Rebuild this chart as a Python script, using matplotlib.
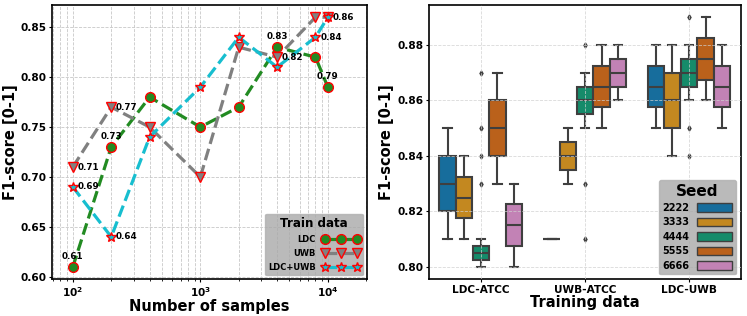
import colorsys
import numpy as np
import matplotlib
matplotlib.use("Agg")
import matplotlib.pyplot as plt
from matplotlib.ticker import FuncFormatter
from matplotlib.patches import Patch

# ---- datos panel izquierdo (F1 vs numero de muestras)
n_samples = [100, 200, 400, 1000, 2000, 4000, 8000, 10000]
f1_ldc = [0.61, 0.73, 0.78, 0.75, 0.77, 0.83, 0.82, 0.79]
f1_uwb = [0.71, 0.77, 0.75, 0.70, 0.83, 0.82, 0.86, 0.86]
f1_ldc_uwb = [0.69, 0.64, 0.74, 0.79, 0.84, 0.81, 0.84, 0.86]

# etiquetas: (x, valor)
labels_above = [(100, 0.61), (200, 0.73), (4000, 0.83), (10000, 0.79)]
labels_right = [(100, 0.71), (200, 0.77), (100, 0.69), (200, 0.64),
                (4000, 0.82), (8000, 0.84), (10000, 0.86)]

# ---- datos panel derecho (estadisticas de cajas por semilla)
categories = ["LDC-ATCC", "UWB-ATCC", "LDC-UWB"]
seeds = ["2222", "3333", "4444", "5555", "6666"]

med = [[0.830, 0.825, 0.805, 0.850, 0.815],
       [0.810, 0.840, 0.860, 0.865, 0.870],
       [0.865, 0.860, 0.870, 0.875, 0.865]]
q1 = [[0.820, 0.8175, 0.8025, 0.840, 0.8075],
      [0.810, 0.835, 0.855, 0.8575, 0.865],
      [0.8575, 0.850, 0.865, 0.8675, 0.8575]]
q3 = [[0.840, 0.8325, 0.8075, 0.860, 0.8225],
      [0.810, 0.845, 0.865, 0.8725, 0.875],
      [0.8725, 0.870, 0.875, 0.8825, 0.8725]]
whislo = [[0.81, 0.81, 0.80, 0.83, 0.80],
          [0.81, 0.83, 0.85, 0.85, 0.86],
          [0.85, 0.84, 0.86, 0.86, 0.85]]
whishi = [[0.85, 0.84, 0.81, 0.87, 0.83],
          [0.81, 0.85, 0.87, 0.88, 0.88],
          [0.88, 0.88, 0.88, 0.89, 0.88]]
fliers = [[[], [], [0.83, 0.84, 0.85, 0.87], [], []],
          [[], [], [0.81, 0.83, 0.88], [], []],
          [[], [], [0.84, 0.85, 0.89], [], []]]

BASE_COLORS = ["#0173b2", "#de8f05", "#029e73", "#d55e00", "#cc78bc"]
LINE_GRAY = "#3f3f3f"


def desat(hexcol, prop=0.75):
    r, g, b = matplotlib.colors.to_rgb(hexcol)
    h, l, s = colorsys.rgb_to_hls(r, g, b)
    return colorsys.hls_to_rgb(h, l, s * prop)


box_colors = [desat(c) for c in BASE_COLORS]

fig = plt.figure(figsize=(7.47, 3.16), dpi=100)
ax1 = fig.add_axes([0.070, 0.116, 0.421, 0.869])
ax2 = fig.add_axes([0.574, 0.116, 0.418, 0.869])

TICK_FS = 7.6
LABEL_FS = 10.5

# ---------------- panel izquierdo
common = dict(linestyle="--", linewidth=2.3, markeredgecolor="red",
              markeredgewidth=1.0)
ax1.plot(n_samples, f1_ldc, color="forestgreen", marker="o", markersize=7,
         label="LDC", **common)
ax1.plot(n_samples, f1_uwb, color="gray", marker="v", markersize=7.5,
         label="UWB", **common)
ax1.plot(n_samples, f1_ldc_uwb, color="tab:cyan", marker="*", markersize=7.5,
         label="LDC+UWB", **common)

for x, v in labels_above:
    ax1.annotate("{:.2f}".format(v), (x, v), xytext=(0, 4.5),
                 textcoords="offset points", ha="center", va="bottom",
                 fontsize=6.3, fontweight="bold")
for x, v in labels_right:
    ax1.annotate("{:.2f}".format(v), (x, v), xytext=(3.5, 0),
                 textcoords="offset points", ha="left", va="center",
                 fontsize=6.3, fontweight="bold")

ax1.set_xscale("log")
ax1.set_xlim(69, 20200)
ax1.set_ylim(0.5975, 0.8725)
ax1.set_yticks([0.60, 0.65, 0.70, 0.75, 0.80, 0.85])
ax1.yaxis.set_major_formatter(FuncFormatter(lambda v, p: "{:.2f}".format(v)))
ax1.xaxis.set_major_formatter(
    FuncFormatter(lambda v, p: r"$\mathbf{10^{%d}}$" % round(np.log10(v))))
ax1.grid(True, which="both", color="#c8c8c8", linestyle="--", linewidth=0.6)
ax1.set_xlabel("Number of samples", fontsize=LABEL_FS, fontweight="bold",
               labelpad=0)
ax1.set_ylabel("F1-score [0-1]", fontsize=LABEL_FS, fontweight="bold",
               labelpad=2)

ax1.legend(loc="lower right", markerfirst=False, numpoints=3,
           handlelength=4.4, facecolor="darkgray", framealpha=0.8,
           edgecolor="#b0b0b0", title="Train data",
           prop={"weight": "bold", "size": 6},
           title_fontproperties={"weight": "bold", "size": 8.6},
           borderaxespad=0.5, labelspacing=0.6)

# ---------------- panel derecho
width = 0.16
offsets = [-0.32, -0.16, 0.0, 0.16, 0.32]
for ci in range(len(categories)):
    for si in range(len(seeds)):
        st = dict(med=med[ci][si], q1=q1[ci][si], q3=q3[ci][si],
                  whislo=whislo[ci][si], whishi=whishi[ci][si],
                  fliers=fliers[ci][si])
        ax2.bxp([st], positions=[ci + offsets[si]], widths=width * 0.98,
                patch_artist=True, showfliers=True,
                boxprops=dict(facecolor=box_colors[si], edgecolor=LINE_GRAY,
                              linewidth=1.5),
                medianprops=dict(color=LINE_GRAY, linewidth=1.5),
                whiskerprops=dict(color=LINE_GRAY, linewidth=1.5),
                capprops=dict(color=LINE_GRAY, linewidth=1.5),
                flierprops=dict(marker="d", markersize=2.5,
                                markerfacecolor=LINE_GRAY,
                                markeredgecolor=LINE_GRAY))

ax2.set_xlim(-0.5, 2.5)
ax2.set_ylim(0.7955, 0.8945)
ax2.set_xticks(range(len(categories)))
ax2.set_xticklabels(categories)
ax2.set_yticks([0.80, 0.82, 0.84, 0.86, 0.88])
ax2.yaxis.set_major_formatter(FuncFormatter(lambda v, p: "{:.2f}".format(v)))
ax2.set_axisbelow(False)
ax2.grid(True, color="#d0d0d0", linestyle="--", linewidth=0.6, alpha=0.8)
ax2.set_xlabel("Training data", fontsize=LABEL_FS, fontweight="bold",
               labelpad=0)
ax2.set_ylabel("F1-score [0-1]", fontsize=LABEL_FS, fontweight="bold",
               labelpad=2)

handles = [Patch(facecolor=c, edgecolor=LINE_GRAY, linewidth=1.0, label=s)
           for c, s in zip(box_colors, seeds)]
ax2.legend(handles=handles, loc="lower right", markerfirst=False,
           handlelength=3.6, handleheight=1.0, facecolor="darkgray",
           framealpha=0.8, edgecolor="#b0b0b0", title="Seed",
           prop={"weight": "bold", "size": 7},
           title_fontproperties={"weight": "bold", "size": 11},
           borderaxespad=0.5, labelspacing=0.45)

for ax in (ax1, ax2):
    for sp in ax.spines.values():
        sp.set_linewidth(1.2)
        sp.set_color("black")
    ax.tick_params(which="major", labelsize=TICK_FS, length=2.5, pad=1.5)
    ax.tick_params(which="minor", length=1.5)
    for lab in ax.get_xticklabels() + ax.get_yticklabels():
        lab.set_fontweight("bold")

fig.savefig("out.png", dpi=100)
